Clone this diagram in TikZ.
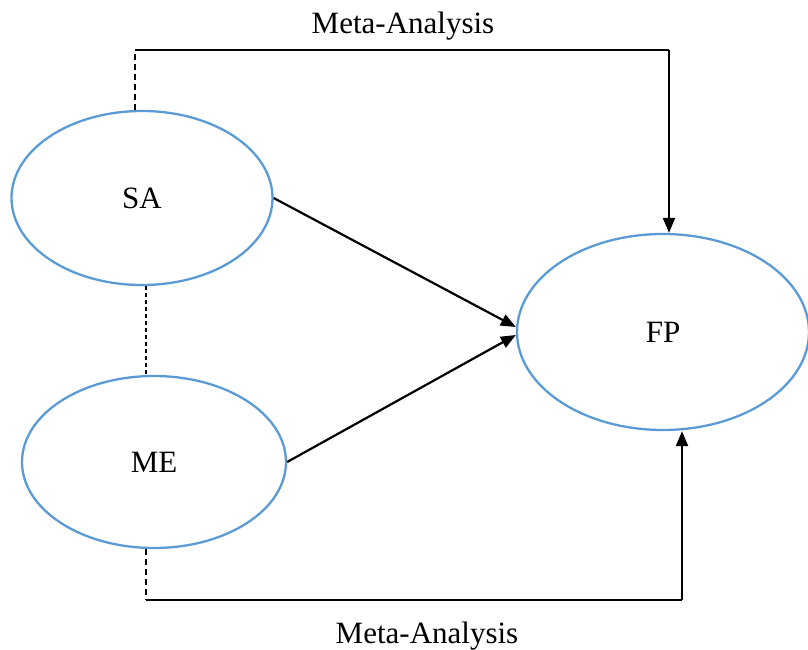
\documentclass[tikz,border=0pt]{standalone}
\usepackage{fontspec}
\setmainfont{Liberation Serif}
\usetikzlibrary{shapes.geometric,arrows.meta,calc}
\definecolor{ellblue}{RGB}{91,155,213}
\begin{document}
\begin{tikzpicture}[x=1pt,y=-1pt,
  oval/.style={ellipse,draw=ellblue,line width=2.3pt,inner sep=0pt,font=\fontsize{31}{36}\selectfont},
  lbl/.style={font=\fontsize{31}{36}\selectfont,inner sep=0pt},
  conn/.style={line width=2.2pt,black},
  arr/.style={conn,-{Triangle[length=15pt,width=12pt]}},
  dash1/.style={line width=1.8pt,dash pattern=on 6pt off 4pt},
  dash2/.style={line width=1.1pt,dash pattern=on 4pt off 3pt}]
\useasboundingbox (0,0) rectangle (808,650);
\node[oval,minimum width=261pt,minimum height=174pt] (SA) at (142,198) {SA};
\node[oval,minimum width=264pt,minimum height=172pt] (ME) at (154,462) {ME};
\node[oval,minimum width=292pt,minimum height=196pt] (FP) at (663,332) {FP};
\node[lbl] (t1) at (403,26) {Meta-Analysis};
\node[lbl] (t2) at (427,636) {Meta-Analysis};
\coordinate (c1) at (135,50);
\coordinate (c2) at (669,50);
\coordinate (c3) at (146,600);
\coordinate (c4) at (682,600);
\draw[dash1] (SA.north -| c1) -- (c1);
\draw[conn] (c1) -- (c2);
\draw[arr] (c2) -- (FP.north -| c2);
\draw[dash2] (SA.south -| c3) -- (ME.north -| c3);
\draw[dash1] (ME.south -| c3) -- (c3);
\draw[conn] (c3) -- (c4);
\draw[arr] (c4) -- (FP.south -| c4);
\draw[arr] (SA.east) -- ($(FP.west)+(0,-5)$);
\draw[arr] (ME.east) -- ($(FP.west)+(0,3)$);
\end{tikzpicture}
\end{document}
